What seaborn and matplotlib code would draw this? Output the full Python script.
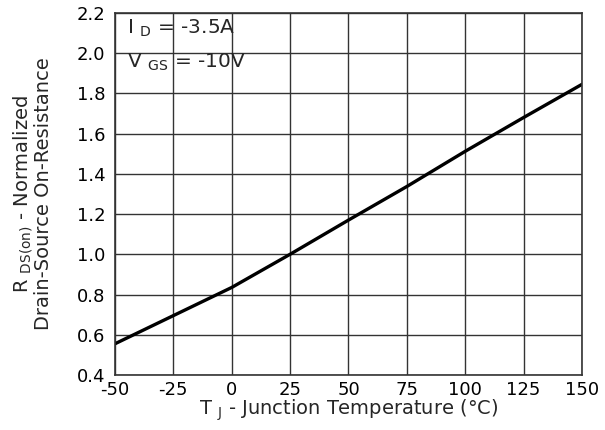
import matplotlib
matplotlib.use("Agg")
import matplotlib.pyplot as plt
import seaborn as sns
import pandas as pd

# Normalized on-resistance vs. junction temperature
temp_c = [-50, -25, 0, 25, 50, 75, 100, 125, 150]
rds_norm = [0.555, 0.695, 0.835, 1.0, 1.17, 1.337, 1.512, 1.68, 1.845]

x_ticks = [-50, -25, 0, 25, 50, 75, 100, 125, 150]
y_ticks = [0.4, 0.6, 0.8, 1.0, 1.2, 1.4, 1.6, 1.8, 2.0, 2.2]
y_ticklabels = ["0.4", "0.6", "0.8", "1.0", "1.2", "1.4", "1.6", "1.8", "2.0", "2.2"]

sns.set_theme(style="white")
plt.rcParams["font.family"] = ["DejaVu Sans"]
plt.rcParams["axes.unicode_minus"] = False
plt.rcParams["mathtext.fontset"] = "custom"
plt.rcParams["mathtext.rm"] = "DejaVu Sans"

df = pd.DataFrame({"T": temp_c, "R": rds_norm})

fig = plt.figure(figsize=(6.05, 4.3), dpi=100)
ax = fig.add_axes([0.190, 0.128, 0.772, 0.842])

sns.lineplot(data=df, x="T", y="R", ax=ax, color="black", linewidth=2.4)

ax.set_xlim(-50, 150)
ax.set_ylim(0.4, 2.2)
ax.set_xticks(x_ticks)
ax.set_yticks(y_ticks)
ax.set_yticklabels(y_ticklabels)
ax.tick_params(axis="both", length=0, labelsize=13, colors="black")
ax.tick_params(axis="x", pad=4)
ax.tick_params(axis="y", pad=7)

ax.grid(True, color="#333333", linewidth=1.0)
for s in ax.spines.values():
    s.set_color("#333333")
    s.set_linewidth(1.2)

ax.set_xlabel(r"T $_{\mathregular{J}}$ - Junction Temperature (°C)", fontsize=14, labelpad=-1)
ax.set_ylabel("R $_{\\mathregular{DS(on)}}$ - Normalized\nDrain-Source On-Resistance",
              fontsize=14, labelpad=17, linespacing=0.95)

ax.text(-45, 2.122, r"I $_{\mathregular{D}}$ = -3.5A", fontsize=14.5, va="center", ha="left")
ax.text(-45, 1.955, r"V $_{\mathregular{GS}}$ = -10V", fontsize=14.5, va="center", ha="left")

fig.savefig("out.png", dpi=100)
